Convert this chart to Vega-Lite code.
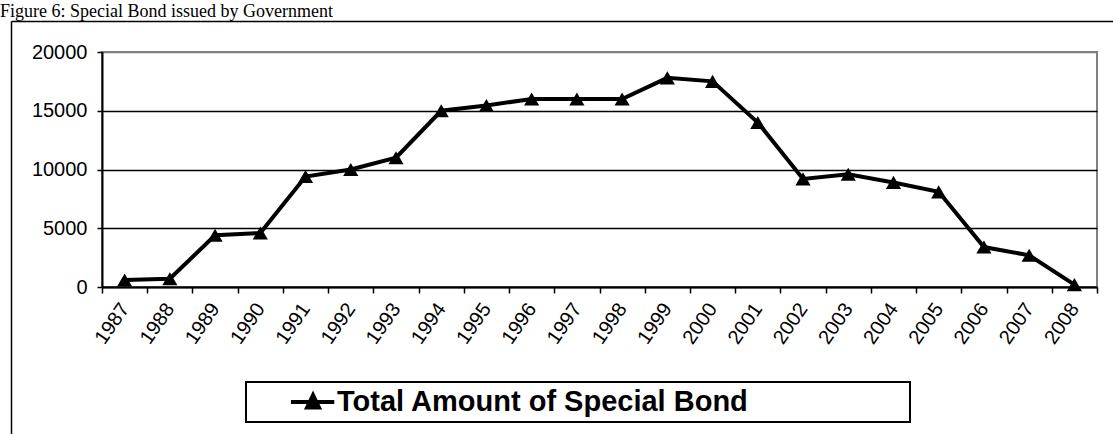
{
  "$schema": "https://vega.github.io/schema/vega-lite/v6.json",
  "width": 995,
  "height": 235,
  "autosize": {"type": "none"},
  "padding": {"left": 102, "top": 52, "right": 16, "bottom": 147},
  "background": "white",
  "title": {
    "text": "Figure 6: Special Bond issued by Government",
    "anchor": "start",
    "frame": "group",
    "font": "Liberation Serif",
    "fontSize": 18,
    "fontWeight": "normal",
    "color": "black",
    "baseline": "alphabetic",
    "offset": 0,
    "dy": 14,
    "dx": -102
  },
  "data": {
    "values": [
      {"year": "1987", "amount": 600, "series": "Total Amount of Special Bond"},
      {"year": "1988", "amount": 700, "series": "Total Amount of Special Bond"},
      {"year": "1989", "amount": 4400, "series": "Total Amount of Special Bond"},
      {"year": "1990", "amount": 4600, "series": "Total Amount of Special Bond"},
      {"year": "1991", "amount": 9400, "series": "Total Amount of Special Bond"},
      {"year": "1992", "amount": 10000, "series": "Total Amount of Special Bond"},
      {"year": "1993", "amount": 11000, "series": "Total Amount of Special Bond"},
      {"year": "1994", "amount": 15000, "series": "Total Amount of Special Bond"},
      {"year": "1995", "amount": 15450, "series": "Total Amount of Special Bond"},
      {"year": "1996", "amount": 16000, "series": "Total Amount of Special Bond"},
      {"year": "1997", "amount": 16000, "series": "Total Amount of Special Bond"},
      {"year": "1998", "amount": 16000, "series": "Total Amount of Special Bond"},
      {"year": "1999", "amount": 17800, "series": "Total Amount of Special Bond"},
      {"year": "2000", "amount": 17500, "series": "Total Amount of Special Bond"},
      {"year": "2001", "amount": 14000, "series": "Total Amount of Special Bond"},
      {"year": "2002", "amount": 9200, "series": "Total Amount of Special Bond"},
      {"year": "2003", "amount": 9600, "series": "Total Amount of Special Bond"},
      {"year": "2004", "amount": 8900, "series": "Total Amount of Special Bond"},
      {"year": "2005", "amount": 8100, "series": "Total Amount of Special Bond"},
      {"year": "2006", "amount": 3400, "series": "Total Amount of Special Bond"},
      {"year": "2007", "amount": 2700, "series": "Total Amount of Special Bond"},
      {"year": "2008", "amount": 200, "series": "Total Amount of Special Bond"}
    ]
  },
  "layer": [
    {
      "encoding": {
        "x": {
          "field": "year",
          "type": "ordinal",
          "scale": {"type": "band", "paddingInner": 0, "paddingOuter": 0},
          "axis": {
            "title": null,
            "labelAngle": -55,
            "labelFont": "Liberation Sans",
            "labelFontSize": 20,
            "labelColor": "black",
            "labelPadding": 12,
            "tickBand": "extent",
            "tickSize": 6,
            "tickColor": "black",
            "tickWidth": 1.5,
            "domainColor": "black",
            "domainWidth": 2,
            "grid": false
          }
        },
        "y": {
          "field": "amount",
          "type": "quantitative",
          "scale": {"domain": [0, 20000]},
          "axis": {
            "title": null,
            "values": [0, 5000, 10000, 15000, 20000],
            "format": "d",
            "labelFont": "Liberation Sans",
            "labelFontSize": 20,
            "labelColor": "black",
            "labelPadding": 10,
            "tickSize": 5,
            "tickColor": "black",
            "tickWidth": 1.5,
            "domainColor": "black",
            "domainWidth": 2,
            "grid": true,
            "gridColor": {"condition": {"test": "datum.value === 20000", "value": "#808080"}, "value": "black"},
            "gridWidth": 1.5
          }
        }
      },
      "layer": [
        {
          "mark": {"type": "line", "strokeWidth": 4},
          "encoding": {
            "color": {
              "field": "series",
              "type": "nominal",
              "scale": {"range": ["black"]},
              "legend": {
                "title": "\u2800",
                "titleOrient": "right",
                "titlePadding": 160,
                "titleFontSize": 2,
                "titleColor": "white",
                "orient": "none",
                "legendX": 144,
                "legendY": 330,
                "direction": "horizontal",
                "padding": 0,
                "strokeColor": "black",
                "labelFont": "Liberation Sans",
                "labelFontSize": 29,
                "labelFontWeight": "bold",
                "labelColor": "black",
                "labelLimit": 900,
                "labelOffset": 2,
                "symbolType": "M-1,0M0.01,0L1.03,0M0.39,0.13L0.53,-0.16L0.67,0.13Z",
                "symbolSize": 7225,
                "symbolStrokeWidth": 4,
                "clipHeight": 40,
                "encode": {
                  "legend": {"update": {"strokeWidth": {"value": 2}}},
                  "symbols": {"update": {"fill": {"value": "black"}, "stroke": {"value": "black"}, "strokeWidth": {"value": 4}, "opacity": {"value": 1}}}
                }
              }
            }
          }
        },
        {
          "mark": {"type": "point", "shape": "triangle-up", "size": 230, "filled": true, "color": "black", "opacity": 1}
        }
      ]
    },
    {
      "mark": {"type": "point", "opacity": 0},
      "encoding": {
        "x": {
          "field": "year",
          "type": "ordinal",
          "scale": {"type": "band", "range": [-91, 1016]},
          "axis": {"orient": "top", "offset": 31, "title": null, "labels": false, "ticks": false, "grid": false, "domainColor": "black", "domainWidth": 1.5}
        },
        "y": {
          "field": "amount",
          "type": "quantitative",
          "scale": {"domain": [0, 20000], "range": [382, -31]},
          "axis": {"orient": "left", "offset": 91, "title": null, "labels": false, "ticks": false, "grid": false, "domainColor": "black", "domainWidth": 1.5}
        }
      }
    }
  ],
  "resolve": {"scale": {"x": "independent", "y": "independent"}},
  "config": {
    "view": {"stroke": "#808080", "strokeWidth": 2}
  }
}
